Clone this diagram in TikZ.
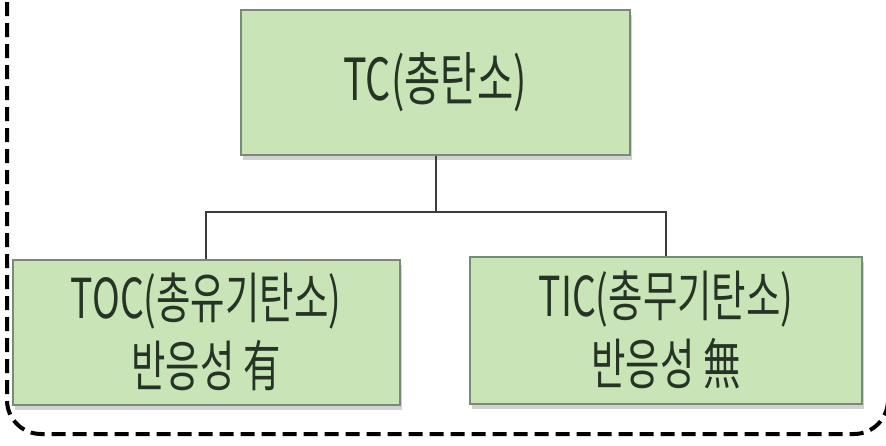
\documentclass[tikz,border=0pt]{standalone}
\usepackage{fontspec}
\setmainfont{Noto Sans CJK KR}[FakeStretch=0.68]
\usetikzlibrary{shadows}
\definecolor{boxfill}{RGB}{201,228,182}
\definecolor{boxline}{RGB}{120,138,120}
\definecolor{txt}{RGB}{38,52,38}
\definecolor{conn}{RGB}{60,60,60}
\tikzset{
  gbox/.style={draw=boxline, line width=2pt, fill=boxfill, text=txt,
    minimum width=#1, inner sep=0pt, align=center,
    drop shadow={shadow xshift=2pt, shadow yshift=-5pt, opacity=0.35, fill=gray}},
  conline/.style={draw=conn, line width=2.2pt},
  frame/.style={line width=4pt, dash pattern=on 14pt off 7pt, rounded corners=34pt}
}
\begin{document}
\begin{tikzpicture}[x=1pt,y=-1pt]
\useasboundingbox (0,0) rectangle (886,445);
\clip (0,0) rectangle (886,445);
\fill[white] (0,0) rectangle (886,445);
\draw[frame] (7,-40) -- (7,434) -- (888,434) -- (888,-40);
\node[gbox=389pt, minimum height=145pt, font=\fontsize{58}{60}\selectfont] (tc) at (435,82) {TC(총탄소)};
\node[gbox=387pt, minimum height=145pt, font=\fontsize{55}{68}\selectfont] (toc) at (206,332) {TOC(총유기탄소)\\반응성 有};
\node[gbox=392pt, minimum height=147pt, font=\fontsize{55}{68}\selectfont] (tic) at (666,330) {TIC(총무기탄소)\\반응성 無};
\coordinate (j) at (436,212);
\draw[conline] (tc.south -| j) -- (j);
\draw[conline] (toc.north) |- (j) -| (tic.north);
\end{tikzpicture}
\end{document}
